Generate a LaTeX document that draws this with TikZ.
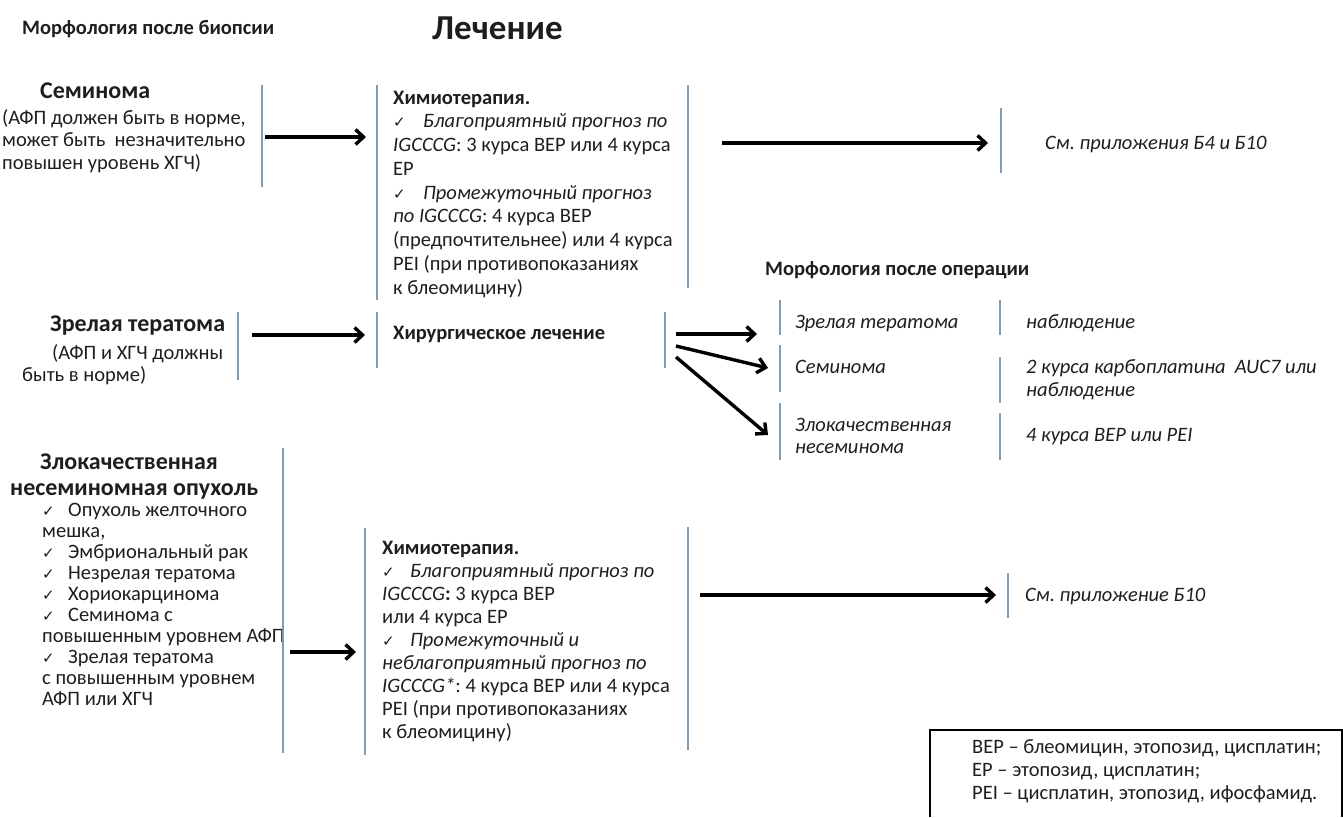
\documentclass[tikz,border=0pt]{standalone}
\usepackage{fontspec}
\setmainfont{Carlito}
\newfontfamily\symf{DejaVu Sans}
\usetikzlibrary{arrows.meta}
\definecolor{barc}{HTML}{7F9CB8}
\definecolor{txt}{HTML}{1E1E1E}
\frenchspacing
\begin{document}
\begin{tikzpicture}[x=1pt,y=-1pt,
  tx/.style={anchor=base west, inner sep=0pt, text=txt, font=\fontsize{20.5}{24}\selectfont},
  it/.style={tx, font=\fontsize{20.5}{24}\selectfont\itshape},
  bf/.style={tx, font=\fontsize{20.5}{24}\selectfont\bfseries},
  head/.style={tx, font=\fontsize{24}{28}\selectfont\bfseries},
  small/.style={tx, font=\fontsize{20.5}{24}\selectfont\bfseries},
  chk/.style={anchor=base west, inner sep=0pt, text=txt, font=\symf\fontsize{15}{17}\selectfont},
  bar/.style={draw=barc, line width=1.6pt},
  arr/.style={draw=black, line width=3.4pt, -{Straight Barb[length=8pt,width=15pt]}}]
\useasboundingbox (0,0) rectangle (1343,817);

% titles
\node[small] (t1) at (22,34) {Морфология после биопсии};
\node[tx, font=\fontsize{35}{40}\selectfont\bfseries] (t2) at (432,39) {Лечение};
\node[small] (t3) at (765,275) {Морфология после операции};

% ---------- Seminoma row ----------
\node[head] (s0) at (40,98) {Семинома};
\node[tx] (s1) at (2,124) {(АФП должен быть в норме,};
\node[tx] (s2) at (2,146) {может быть\ \ незначительно};
\node[tx] (s3) at (2,169) {повышен уровень ХГЧ)};
\draw[bar] (262,85) -- (262,187);
\coordinate (a1s) at (265,137); \coordinate (a1e) at (366,137);
\draw[arr] (a1s) -- (a1e);
\draw[bar] (377,85) -- (377,300);
\draw[bar] (688,85) -- (688,288);
\node[bf] (c1) at (393,104) {Химиотерапия.};
\node[chk] (c2k) at (393,127.75) {✓};
\node[it] (c2) at (423,127.75) {Благоприятный прогноз по};
\node[tx] (c3) at (393,151.5) {\textit{IGCCCG}: 3 курса BEP или 4 курса};
\node[tx] (c4) at (393,175.25) {EP};
\node[chk] (c5k) at (393,199) {✓};
\node[it] (c5) at (423,199) {Промежуточный прогноз};
\node[tx] (c6) at (393,222.75) {\textit{по IGCCCG}: 4 курса BEP};
\node[tx] (c7) at (393,246.5) {(предпочтительнее) или 4 курса};
\node[tx] (c8) at (393,270.25) {PEI (при противопоказаниях};
\node[tx] (c9) at (393,294) {к блеомицину)};
\coordinate (a2s) at (722,143); \coordinate (a2e) at (988,143);
\draw[arr] (a2s) -- (a2e);
\draw[bar] (1001,108) -- (1001,173);
\node[it] (r1) at (1045,149) {См. приложения Б4 и Б10};

% ---------- Mature teratoma row ----------
\node[head] (m0) at (50,331) {Зрелая тератома};
\node[tx] (m1) at (52,359) {(АФП и ХГЧ должны};
\node[tx] (m2) at (22,381) {быть в норме)};
\draw[bar] (238,312) -- (238,380);
\coordinate (a3s) at (252,335); \coordinate (a3e) at (365,335);
\draw[arr] (a3s) -- (a3e);
\draw[bar] (377,312) -- (377,368);
\node[bf] (h1) at (393,339) {Хирургическое лечение};
\draw[bar] (665,312) -- (665,368);
\coordinate (f1s) at (676,334); \coordinate (f1e) at (757,334);
\coordinate (f2s) at (676,346); \coordinate (f2e) at (768,368);
\coordinate (f3s) at (676,357); \coordinate (f3e) at (768,435);
\draw[arr] (f1s) -- (f1e);
\draw[arr] (f2s) -- (f2e);
\draw[arr] (f3s) -- (f3e);
\draw[bar] (780,300) -- (780,335);
\draw[bar] (780,345) -- (780,392);
\draw[bar] (780,403) -- (780,460);
\node[it] (p1) at (795,328) {Зрелая тератома};
\node[it] (p2) at (795,373) {Семинома};
\node[it] (p3) at (795,431) {Злокачественная};
\node[it] (p4) at (795,453) {несеминома};
\draw[bar] (1000,300) -- (1000,335);
\draw[bar] (1000,357) -- (1000,403);
\draw[bar] (1000,413) -- (1000,460);
\node[it] (q1) at (1026,328) {наблюдение};
\node[it] (q2) at (1026,373) {2 курса карбоплатина\ \ AUC7 или};
\node[it] (q3) at (1026,396) {наблюдение};
\node[it] (q4) at (1026,441) {4 курса BEP или PEI};

% ---------- Non-seminoma row ----------
\node[head] (n0) at (40,469) {Злокачественная};
\node[head] (n1) at (10,495) {несеминомная опухоль};
\node[chk] (l1k) at (42,516) {✓};
\node[tx] (l1) at (68,516) {Опухоль желточного};
\node[tx] (l2) at (42,537.1) {мешка,};
\node[chk] (l3k) at (42,558.2) {✓};
\node[tx] (l3) at (68,558.2) {Эмбриональный рак};
\node[chk] (l4k) at (42,579.3) {✓};
\node[tx] (l4) at (68,579.3) {Незрелая тератома};
\node[chk] (l5k) at (42,600.4) {✓};
\node[tx] (l5) at (68,600.4) {Хориокарцинома};
\node[chk] (l6k) at (42,621.5) {✓};
\node[tx] (l6) at (68,621.5) {Семинома с};
\node[tx] (l7) at (42,642.6) {повышенным уровнем АФП};
\node[chk] (l8k) at (42,663.7) {✓};
\node[tx] (l8) at (68,663.7) {Зрелая тератома};
\node[tx] (l9) at (42,684.8) {с повышенным уровнем};
\node[tx] (l10) at (42,705.9) {АФП или ХГЧ};
\draw[bar] (283,448) -- (283,753);
\coordinate (a4s) at (290,652); \coordinate (a4e) at (356,652);
\draw[arr] (a4s) -- (a4e);
\draw[bar] (365,528) -- (365,755);
\node[bf] (d1) at (382,554) {Химиотерапия.};
\node[chk] (d2k) at (382,577.1) {✓};
\node[it] (d2) at (410,577.1) {Благоприятный прогноз по};
\node[tx] (d3) at (382,600.2) {\textit{IGCCCG}\textbf{:} 3 курса BEP};
\node[tx] (d4) at (382,623.3) {или 4 курса EP};
\node[chk] (d5k) at (382,646.4) {✓};
\node[it] (d5) at (410,646.4) {Промежуточный и};
\node[it] (d6) at (382,669.5) {неблагоприятный прогноз по};
\node[tx] (d7) at (382,692.6) {\textit{IGCCCG*}: 4 курса BEP или 4 курса};
\node[tx] (d8) at (382,715.7) {PEI (при противопоказаниях};
\node[tx] (d9) at (382,738.8) {к блеомицину)};
\draw[bar] (688,527) -- (688,750);
\coordinate (a5s) at (700,595); \coordinate (a5e) at (996,595);
\draw[arr] (a5s) -- (a5e);
\draw[bar] (1008,573) -- (1008,618);
\node[it] (r2) at (1025,601) {См. приложение Б10};

% ---------- legend ----------
\draw[line width=1.5pt] (930,817) -- (930,730) -- (1342,730) -- (1342,817);
\node[tx] (g1) at (972,753) {BEP – блеомицин, этопозид, цисплатин;};
\node[tx] (g2) at (972,776) {EP – этопозид, цисплатин;};
\node[tx] (g3) at (972,799) {PEI – цисплатин, этопозид, ифосфамид.};
\end{tikzpicture}
\end{document}
